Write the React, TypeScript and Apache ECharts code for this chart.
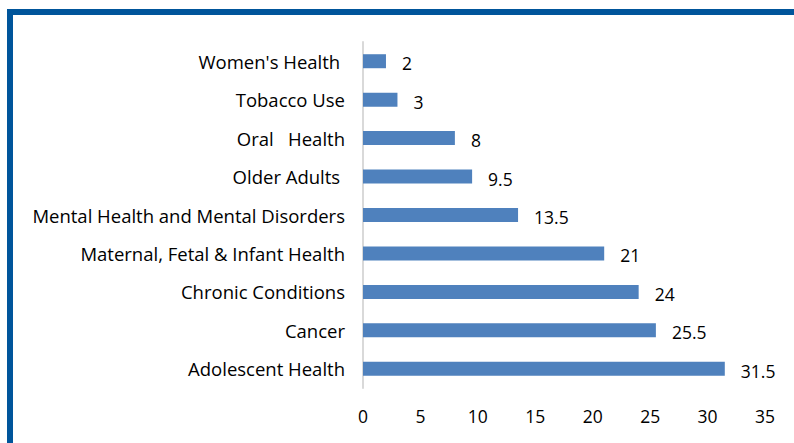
import React, { useEffect, useRef } from "react";
import * as echarts from "echarts";

const categories = [
  "Adolescent Health",
  "Cancer",
  "Chronic Conditions",
  "Maternal, Fetal & Infant Health",
  "Mental Health and Mental Disorders",
  "Older Adults ",
  "Oral   Health",
  "Tobacco Use",
  "Women's Health ",
];
const values = [31.5, 25.5, 24, 21, 13.5, 9.5, 8, 3, 2];
const xTicks = [0, 5, 10, 15, 20, 25, 30, 35];

const FONT = "'Open Sans', 'Noto Sans', sans-serif";

export default function App() {
  const ref = useRef<HTMLDivElement>(null);
  useEffect(() => {
    const chart = echarts.init(ref.current!, undefined, { renderer: "svg" });
    chart.setOption({
      animation: false,
      backgroundColor: "#ffffff",
      grid: { left: 363, right: 29, top: 42, bottom: 55, containLabel: false },
      xAxis: {
        type: "value",
        min: xTicks[0],
        max: xTicks[xTicks.length - 1],
        interval: 5,
        axisLine: { show: false },
        axisTick: { show: false },
        splitLine: { show: false },
        axisLabel: { color: "#000", fontFamily: FONT, fontSize: 17.5, margin: 19 },
      },
      yAxis: {
        type: "category",
        data: categories,
        axisLine: { show: true, lineStyle: { color: "#d9d9d9", width: 2 } },
        axisTick: { show: false },
        axisLabel: { color: "#000", fontFamily: FONT, fontSize: 18.5, margin: 18 },
      },
      series: [
        {
          type: "bar",
          data: values,
          barWidth: 14,
          itemStyle: { color: "#4f81bd" },
          label: {
            show: true,
            position: "right",
            distance: 16,
            color: "#000",
            fontFamily: FONT,
            fontSize: 17.5,
            offset: [0, 2],
          },
        },
      ],
      graphic: [
        { type: "rect", shape: { x: 7, y: 9, width: 800, height: 6 }, style: { fill: "#00559b" } },
        { type: "rect", shape: { x: 7, y: 9, width: 6, height: 440 }, style: { fill: "#00559b" } },
      ],
    });
    return () => chart.dispose();
  }, []);
  return (
    <div
      ref={ref}
      style={{ position: "absolute", left: 0, top: 0, width: 794, height: 443 }}
    />
  );
}
